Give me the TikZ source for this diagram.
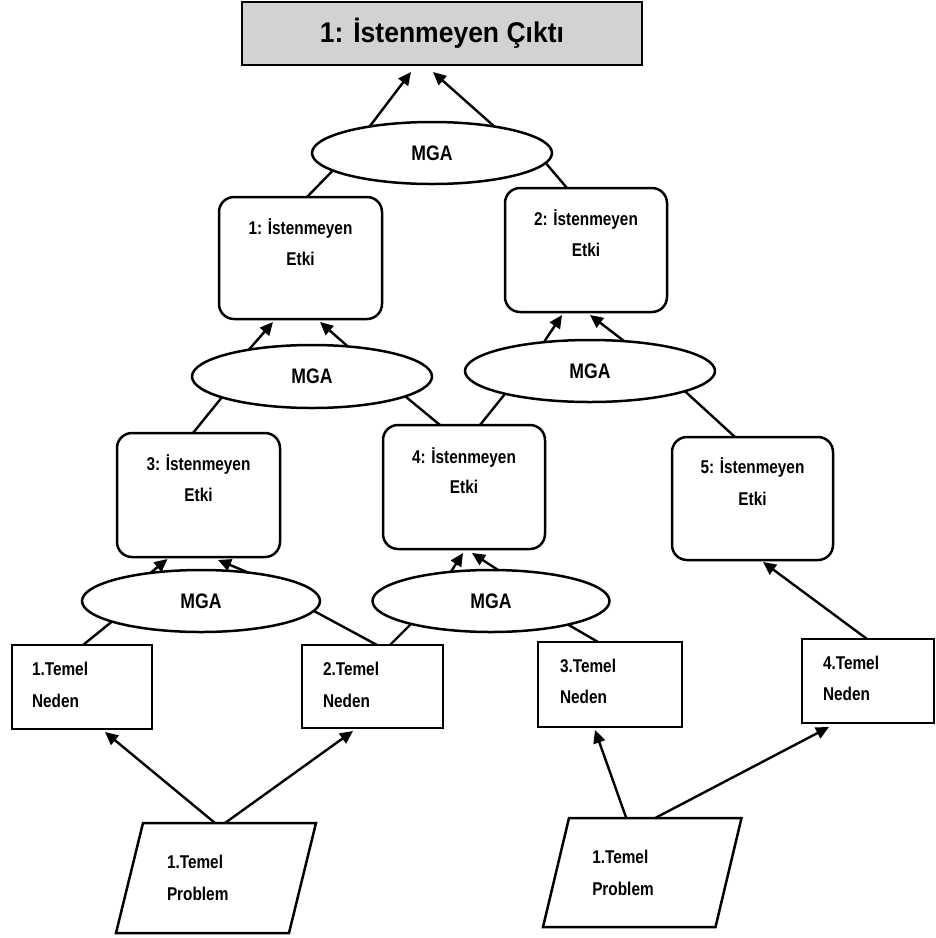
\documentclass[tikz,border=0pt]{standalone}
\usepackage{fontspec}
\newfontfamily\lblfont[FakeStretch=0.83]{Liberation Sans}
\newfontfamily\mgafont[FakeStretch=0.84]{Liberation Sans}
\newfontfamily\ttlfont[FakeStretch=0.93]{Liberation Sans}
\usetikzlibrary{arrows.meta,shapes.geometric}
\definecolor{titlegray}{RGB}{210,210,210}

\begin{document}
\begin{tikzpicture}[x=1pt,y=-1pt,
  every node/.style={inner sep=0pt, outer sep=0pt},
  line/.style={line width=2.4pt},
  arr/.style={line width=2.4pt, -{Triangle[length=13pt,width=12pt]}},
  titlebox/.style={draw, line width=2.7pt, fill=titlegray,
    font=\ttlfont\bfseries\fontsize{28.5pt}{32pt}\selectfont},
  mga/.style={draw, ellipse, line width=2.5pt, fill=white,
    font=\mgafont\bfseries\fontsize{21pt}{24pt}\selectfont},
  effect/.style={draw, rounded corners=15pt, line width=2.5pt},
  cause/.style={draw, line width=2.8pt},
  problem/.style={},
  lbl/.style={font=\lblfont\bfseries\fontsize{18.5pt}{21pt}\selectfont},
]
\useasboundingbox (0,0) rectangle (936,938);

% ---- top result ----
\node[titlebox, minimum width=400pt, minimum height=63pt] (result) at (442,33.5) {1: İstenmeyen Çıktı};

% ---- MGA ellipses ----
\node[mga, minimum width=240pt, minimum height=62pt] (mga0) at (432,153) {MGA};
\node[mga, minimum width=240pt, minimum height=63pt] (mga1) at (312,376.5) {MGA};
\node[mga, minimum width=250pt, minimum height=62pt] (mga2) at (590,371) {MGA};
\node[mga, minimum width=238pt, minimum height=62pt] (mga3) at (201,601) {MGA};
\node[mga, minimum width=237pt, minimum height=62pt] (mga4) at (491,601) {MGA};

% ---- effect boxes ----
\node[effect, minimum width=163pt, minimum height=122pt] (e1) at (300.5,258) {};
\node[effect, minimum width=162pt, minimum height=124pt] (e2) at (586,250) {};
\node[effect, minimum width=163pt, minimum height=124pt] (e3) at (198.5,495) {};
\node[effect, minimum width=162pt, minimum height=124pt] (e4) at (464,487) {};
\node[effect, minimum width=161pt, minimum height=123pt] (e5) at (752.5,498.5) {};

\node[lbl, anchor=base] (e1a) at ([yshift=-37pt]e1.north) {1: İstenmeyen};
\node[lbl, anchor=base] (e1b) at ([yshift=-68pt]e1.north) {Etki};
\node[lbl, anchor=base] (e2a) at ([yshift=-37pt]e2.north) {2: İstenmeyen};
\node[lbl, anchor=base] (e2b) at ([yshift=-68pt]e2.north) {Etki};
\node[lbl, anchor=base] (e3a) at ([yshift=-37pt]e3.north) {3: İstenmeyen};
\node[lbl, anchor=base] (e3b) at ([yshift=-68pt]e3.north) {Etki};
\node[lbl, anchor=base] (e4a) at ([yshift=-38pt]e4.north) {4: İstenmeyen};
\node[lbl, anchor=base] (e4b) at ([yshift=-68pt]e4.north) {Etki};
\node[lbl, anchor=base] (e5a) at ([yshift=-36pt]e5.north) {5: İstenmeyen};
\node[lbl, anchor=base] (e5b) at ([yshift=-68pt]e5.north) {Etki};

% ---- root causes ----
\node[cause, minimum width=140pt, minimum height=84pt] (n1) at (82,687) {};
\node[cause, minimum width=141pt, minimum height=83pt] (n2) at (372.5,686.5) {};
\node[cause, minimum width=144pt, minimum height=85pt] (n3) at (610,684.5) {};
\node[cause, minimum width=132pt, minimum height=84pt] (n4) at (868,681) {};

\node[lbl, anchor=base west] (n1a) at ([xshift=20pt,yshift=-30pt]n1.north west) {1.Temel};
\node[lbl, anchor=base west] (n1b) at ([xshift=20pt,yshift=-62pt]n1.north west) {Neden};
\node[lbl, anchor=base west] (n2a) at ([xshift=21pt,yshift=-30pt]n2.north west) {2.Temel};
\node[lbl, anchor=base west] (n2b) at ([xshift=21pt,yshift=-62pt]n2.north west) {Neden};
\node[lbl, anchor=base west] (n3a) at ([xshift=22pt,yshift=-30pt]n3.north west) {3.Temel};
\node[lbl, anchor=base west] (n3b) at ([xshift=22pt,yshift=-61pt]n3.north west) {Neden};
\node[lbl, anchor=base west] (n4a) at ([xshift=21pt,yshift=-30pt]n4.north west) {4.Temel};
\node[lbl, anchor=base west] (n4b) at ([xshift=21pt,yshift=-61pt]n4.north west) {Neden};

% ---- problems (parallelograms) ----
\node[problem, minimum width=173pt, minimum height=110pt] (p1) at (216,878) {};
\node[problem, minimum width=172.5pt, minimum height=109pt] (p2) at (642.25,872.5) {};
\draw[line width=2.5pt] ([xshift=13.5pt]p1.north west) -- ([xshift=13.5pt]p1.north east)
  -- ([xshift=-13.5pt]p1.south east) -- ([xshift=-13.5pt]p1.south west) -- cycle;
\draw[line width=2.5pt] ([xshift=13pt]p2.north west) -- ([xshift=13pt]p2.north east)
  -- ([xshift=-13pt]p2.south east) -- ([xshift=-13pt]p2.south west) -- cycle;
\node[lbl, anchor=base west] (p1a) at ([xshift=-49pt,yshift=-45pt]p1.north) {1.Temel};
\node[lbl, anchor=base west] (p1b) at ([xshift=-49pt,yshift=-77pt]p1.north) {Problem};
\node[lbl, anchor=base west] (p2a) at ([xshift=-50pt,yshift=-45pt]p2.north) {1.Temel};
\node[lbl, anchor=base west] (p2b) at ([xshift=-50pt,yshift=-77pt]p2.north) {Problem};

% ---- connectors: top level ----
\draw[arr] (mga0.157) -- ([xshift=-31pt,yshift=-7pt]result.south);
\draw[arr] (mga0.23) -- ([xshift=-9pt,yshift=-7pt]result.south);
\draw[line] (mga0.190) -- ([xshift=6.5pt]e1.north);
\draw[line] (mga0.-5) -- ([xshift=-19pt]e2.north);

% ---- connectors: second level ----
\draw[arr] (mga1.157) -- ([xshift=-27.5pt,yshift=-3pt]e1.south);
\draw[arr] (mga1.40) -- ([xshift=19.5pt,yshift=-3pt]e1.south);
\draw[arr] (mga2.148) -- ([xshift=-24pt,yshift=-3pt]e2.south);
\draw[arr] (mga2.41) -- ([xshift=4pt,yshift=-3pt]e2.south);
\draw[line] (mga1.193) -- ([xshift=-5.5pt]e3.north);
\draw[line] (mga1.-12.5) -- ([xshift=-24pt]e4.north);
\draw[line] (mga2.195) -- ([xshift=16pt]e4.north);
\draw[line] (mga2.-12) -- ([xshift=-17.5pt]e5.north);

% ---- connectors: third level ----
\draw[arr] (mga3.151) -- ([xshift=-31pt,yshift=-2pt]e3.south);
\draw[arr] (mga3.31) -- ([xshift=19.5pt,yshift=-3pt]e3.south);
\draw[arr] (mga4.144) -- ([xshift=-1pt,yshift=-4pt]e4.south);
\draw[arr] (mga4.77) -- ([xshift=8pt,yshift=-4pt]e4.south);
\draw[line] (mga3.193) -- ([xshift=1pt]n1.north);
\draw[line] (mga3.-5.4) -- ([xshift=4.5pt]n2.north);
\draw[line] (mga4.196.5) -- ([xshift=17.5pt]n2.north);
\draw[line] (mga4.-17) -- ([xshift=-12pt]n3.north);
\draw[arr] ([xshift=-1pt]n4.north) -- ([xshift=10.5pt,yshift=-2pt]e5.south);

% ---- connectors: problems to causes ----
\draw[arr] ([xshift=-1pt]p1.north) -- ([xshift=23pt,yshift=-3pt]n1.south);
\draw[arr] ([xshift=9pt]p1.north) -- ([xshift=-19.5pt,yshift=-3pt]n2.south);
\draw[arr] ([xshift=-16pt]p2.north) -- ([xshift=-15pt,yshift=-3pt]n3.south);
\draw[arr] ([xshift=13pt]p2.north) -- ([xshift=-39pt,yshift=-4pt]n4.south);
\end{tikzpicture}
\end{document}
